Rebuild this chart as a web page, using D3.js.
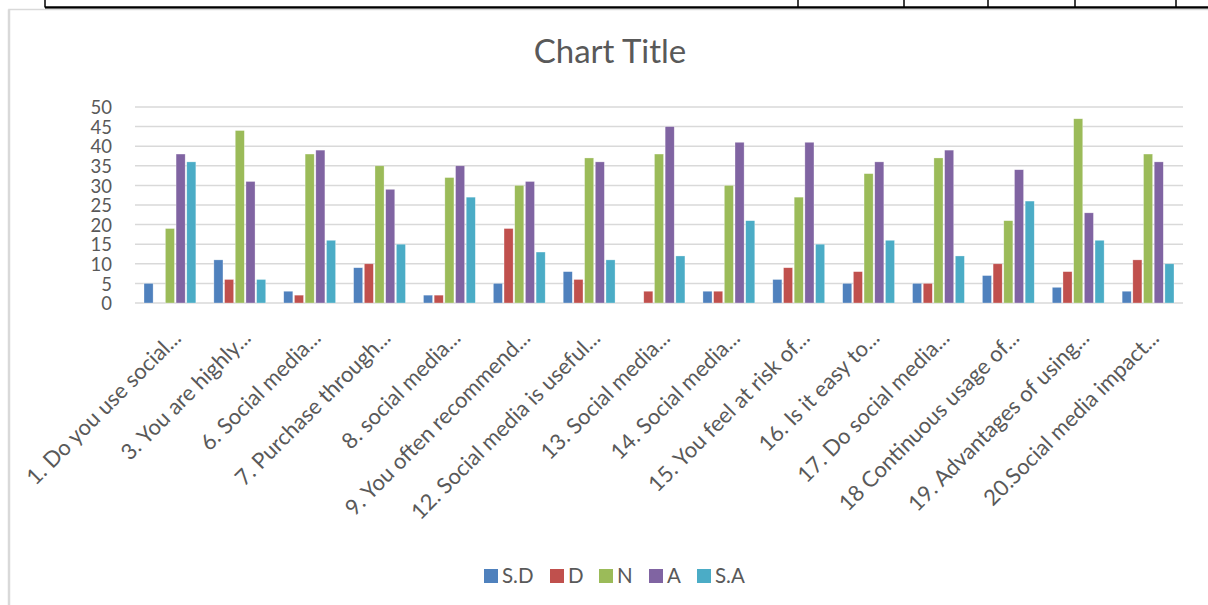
<!DOCTYPE html>
<html><head><meta charset="utf-8">
<script src="https://cdn.jsdelivr.net/npm/d3@7/dist/d3.min.js"></script>
<style>
html,body{margin:0;padding:0;background:#fff;}
svg{display:block;}
text{font-family:Lato,"Open Sans",sans-serif;fill:#595959;}
</style></head>
<body>
<svg id="chart" width="1208" height="605"></svg>
<script>
const categories = [
  "1. Do you use social...",
  "3. You are highly...",
  "6. Social media...",
  "7. Purchase through...",
  "8.  social media...",
  "9. You often  recommend...",
  "12. Social media is useful...",
  "13. Social media...",
  "14. Social media...",
  "15.  You feel at risk of...",
  "16. Is it easy to...",
  "17. Do social media...",
  "18 Continuous usage of...",
  "19. Advantages of using...",
  "20.Social media impact..."
];
const seriesNames = ["S.D", "D", "N", "A", "S.A"];
const seriesColors = ["#4F81BD", "#C0504D", "#9BBB59", "#8064A2", "#4BACC6"];
const SD = [5, 11, 3, 9, 2, 5, 8, 0, 3, 6, 5, 5, 7, 4, 3];
const D  = [0, 6, 2, 10, 2, 19, 6, 3, 3, 9, 8, 5, 10, 8, 11];
const N  = [19, 44, 38, 35, 32, 30, 37, 38, 30, 27, 33, 37, 21, 47, 38];
const A  = [38, 31, 39, 29, 35, 31, 36, 45, 41, 41, 36, 39, 34, 23, 36];
const SA = [36, 6, 16, 15, 27, 13, 11, 12, 21, 15, 16, 12, 26, 16, 10];
const yTicks = [0, 5, 10, 15, 20, 25, 30, 35, 40, 45, 50];
const chartTitle = "Chart Title";

const seriesValues = [SD, D, N, A, SA];
const svg = d3.select("#chart");

// top table remnants
const tbl = svg.append("g");
tbl.append("line").attr("x1", 45).attr("x2", 1208).attr("y1", 7.5).attr("y2", 7.5)
  .attr("stroke", "#000").attr("stroke-width", 2.5);
[45, 798, 904, 988, 1075, 1176].forEach(x => {
  tbl.append("line").attr("x1", x).attr("x2", x).attr("y1", 0).attr("y2", 7.5)
    .attr("stroke", "#000").attr("stroke-width", 1.5);
});

// chart border
svg.append("rect").attr("x", 9).attr("y", 9.5).attr("width", 1230).attr("height", 620)
  .attr("fill", "none").attr("stroke", "#d9d9d9").attr("stroke-width", 1.5);
svg.append("line").attr("x1", 9).attr("x2", 9).attr("y1", 9.5).attr("y2", 605)
  .attr("stroke", "#d9d9d9").attr("stroke-width", 2.5);

// title
svg.append("text").attr("x", 610).attr("y", 63).attr("text-anchor", "middle")
  .style("font-size", "33px").text(chartTitle);

const pLeft = 135, pRight = 1183, pTop = 107, pBottom = 303;
const x0 = d3.scaleBand().domain(categories).range([pLeft, pRight]).paddingInner(0.235).paddingOuter(0.1175);
const x1 = d3.scaleBand().domain(seriesNames).range([0, x0.bandwidth()]);
const y = d3.scaleLinear().domain([0, 50]).range([pBottom, pTop]);

// gridlines
svg.append("g").selectAll("line").data(yTicks).join("line")
  .attr("x1", pLeft).attr("x2", pRight)
  .attr("y1", d => y(d)).attr("y2", d => y(d))
  .attr("stroke", "#d9d9d9").attr("stroke-width", 1.5);

// y axis labels
const yAxis = d3.axisLeft(y).tickValues(yTicks).tickSize(0).tickPadding(0);
const yg = svg.append("g").attr("transform", `translate(${112},0)`).call(yAxis);
yg.select(".domain").remove();
yg.selectAll("text").style("font-size", "18.5px").attr("fill", "#595959")
  .attr("dy", "0.36em")
  .style("font-family", "Lato,'Open Sans',sans-serif");

// bars
const groups = svg.append("g").selectAll("g").data(categories).join("g")
  .attr("transform", d => `translate(${x0(d)},0)`);
groups.selectAll("rect").data((c, i) => seriesNames.map((s, j) => ({s, j, v: seriesValues[j][i]})))
  .join("rect")
  .attr("x", d => x1(d.s) + 0.8)
  .attr("width", x1.bandwidth() - 1.6)
  .attr("y", d => y(d.v))
  .attr("height", d => pBottom - y(d.v))
  .attr("fill", d => seriesColors[d.j])
  .attr("stroke", "#ffffff").attr("stroke-opacity", 0.5).attr("stroke-width", 0.6)
  .attr("visibility", d => d.v > 0 ? "visible" : "hidden");

// x axis labels
const xAxis = d3.axisBottom(x0).tickSize(0).tickPadding(0);
const xg = svg.append("g").attr("transform", `translate(0,${pBottom})`).call(xAxis);
xg.select(".domain").remove();
xg.selectAll("text")
  .style("font-size", "22px").attr("fill", "#595959")
  .style("font-family", "Lato,'Open Sans',sans-serif")
  .attr("text-anchor", "end")
  .attr("dy", "0.35em")
  .attr("transform", "translate(7,31) rotate(-45)")
  .attr("y", 0).attr("x", 0);

// legend
const legendX = [484, 550, 599, 649, 697];
const lg = svg.append("g");
seriesNames.forEach((s, j) => {
  lg.append("rect").attr("x", legendX[j]).attr("y", 569).attr("width", 14).attr("height", 14)
    .attr("fill", seriesColors[j]);
  lg.append("text").attr("x", legendX[j] + 18).attr("y", 583)
    .style("font-size", "20.5px").text(s);
});
</script>
</body></html>
